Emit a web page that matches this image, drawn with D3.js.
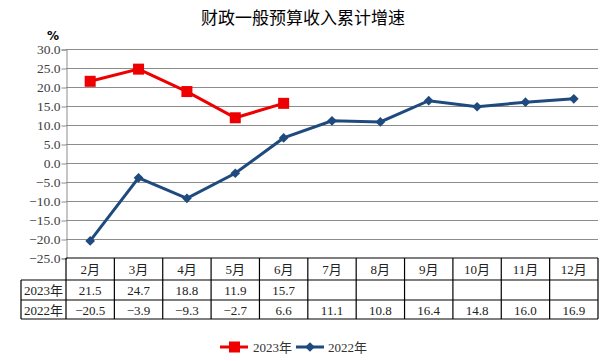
<!DOCTYPE html>
<html>
<head>
<meta charset="utf-8">
<script src="https://cdn.jsdelivr.net/npm/d3@7"></script>
<style>
body { margin: 0; background: #fff; }
text { font-family: "Liberation Serif", "DejaVu Serif", "Noto Sans CJK SC", serif; }
</style>
</head>
<body>
<div id="chart-area"></div>
<script>
var width = 611;
var height = 361;

// data
var months = ["2月", "3月", "4月", "5月", "6月", "7月", "8月", "9月", "10月", "11月", "12月"];
var values2023 = [21.5, 24.7, 18.8, 11.9, 15.7];
var values2022 = [-20.5, -3.9, -9.3, -2.7, 6.6, 11.1, 10.8, 16.4, 14.8, 16.0, 16.9];
var yTicks = [30, 25, 20, 15, 10, 5, 0, -5, -10, -15, -20, -25];

var plot = {left: 66, right: 598, top: 49, bottom: 258};

var svg = d3.select("#chart-area").append("svg")
.attr("width", width)
.attr("height", height)

svg.append("text")
.attr("x", 303)
.attr("y", 24)
.attr("text-anchor", "middle")
.attr("font-size", "17px")
.style("font-family", "'Noto Sans CJK SC', sans-serif")
.text("财政一般预算收入累计增速")

var x = d3.scaleBand()
.domain(months)
.range([plot.left, plot.right])

var y = d3.scaleLinear()
.domain([-25, 30])
.range([plot.bottom, plot.top])

// gridlines
svg.append("g")
.selectAll("line")
.data(yTicks.filter(d => d > -25))
.enter().append("line")
.attr("x1", plot.left)
.attr("x2", plot.right)
.attr("y1", d => y(d) + 0.5)
.attr("y2", d => y(d) + 0.5)
.attr("stroke", "#8c8c8c")
.attr("stroke-width", 1)

// y axis
var yAxisCall = d3.axisLeft(y)
.tickValues(yTicks)
.tickSize(5)
.tickFormat(d => d3.format(".1f")(d).replace("-", "\u2212"))

var yAxisGroup = svg.append("g")
.attr("transform", "translate(" + (plot.left + 0.5) + ",0.5)")
.call(yAxisCall)

yAxisGroup.select(".domain").attr("stroke", "#8c8c8c")
yAxisGroup.selectAll(".tick line").attr("stroke", "#8c8c8c")
yAxisGroup.selectAll(".tick text")
.attr("font-size", "13.5px")
.attr("fill", "#404040")
.attr("x", -6)
.style("font-family", "'Liberation Serif', serif")

svg.append("text")
.attr("x", 47)
.attr("y", 40)
.attr("font-size", "12px")
.attr("font-weight", "bold")
.style("font-family", "'DejaVu Sans', sans-serif")
.text("%")

// lines
var line = d3.line()
.x((d, i) => x(months[i]) + x.bandwidth() / 2)
.y(d => y(d))

svg.append("path")
.datum(values2022)
.attr("d", line)
.attr("fill", "none")
.attr("stroke", "#1f4a7e")
.attr("stroke-width", 3)

svg.append("path")
.datum(values2023)
.attr("d", line)
.attr("fill", "none")
.attr("stroke", "#ee0000")
.attr("stroke-width", 3)

svg.append("g")
.selectAll("path")
.data(values2022)
.enter().append("path")
.attr("d", d3.symbol().type(d3.symbolDiamond2).size(60))
.attr("transform", (d, i) => "translate(" + (x(months[i]) + x.bandwidth() / 2) + "," + y(d) + ")")
.attr("fill", "#1f4a7e")

svg.append("g")
.selectAll("rect")
.data(values2023)
.enter().append("rect")
.attr("x", (d, i) => x(months[i]) + x.bandwidth() / 2 - 5.5)
.attr("y", d => y(d) - 5.5)
.attr("width", 11)
.attr("height", 11)
.attr("fill", "#ee0000")

// table
var tableLeft = 21;
var rowY = [258, 280, 300, 319];
var table = svg.append("g")
.attr("stroke", "#000")
.attr("stroke-width", 1.2)

// horizontal lines
table.append("line").attr("x1", plot.left).attr("x2", plot.right).attr("y1", rowY[0]).attr("y2", rowY[0])
rowY.slice(1).forEach(yy => {
	table.append("line").attr("x1", tableLeft).attr("x2", plot.right).attr("y1", yy).attr("y2", yy)
})
// vertical lines
table.append("line").attr("x1", tableLeft).attr("x2", tableLeft).attr("y1", rowY[1]).attr("y2", rowY[3])
months.forEach(m => {
	table.append("line").attr("x1", x(m)).attr("x2", x(m)).attr("y1", rowY[0]).attr("y2", rowY[3])
})
table.append("line").attr("x1", plot.right).attr("x2", plot.right).attr("y1", rowY[0]).attr("y2", rowY[3])

var fmt = d => d3.format(".1f")(d).replace("-", "\u2212")

svg.append("g").selectAll("text")
.data(months)
.enter().append("text")
.attr("x", d => x(d) + x.bandwidth() / 2)
.attr("y", 274)
.attr("text-anchor", "middle")
.attr("font-size", "13px")
.attr("fill", "#222")
.text(d => d)

var rows = [["2023年", values2023, 295], ["2022年", values2022, 315]];
rows.forEach(r => {
	svg.append("text")
	.attr("x", (tableLeft + plot.left) / 2)
	.attr("y", r[2])
	.attr("text-anchor", "middle")
	.attr("font-size", "13px")
	.attr("fill", "#222")
	.text(r[0])

	svg.append("g").selectAll("text")
	.data(r[1])
	.enter().append("text")
	.attr("x", (d, i) => x(months[i]) + x.bandwidth() / 2)
	.attr("y", r[2])
	.attr("text-anchor", "middle")
	.attr("font-size", "13px")
	.attr("fill", "#222")
	.text(d => fmt(d))
})

// legend
var legend = svg.append("g")
.attr("transform", "translate(220,347)")

legend.append("line").attr("x1", 0).attr("x2", 28).attr("stroke", "#ee0000").attr("stroke-width", 3)
legend.append("rect").attr("x", 9).attr("y", -5.5).attr("width", 11).attr("height", 11).attr("fill", "#ee0000")
legend.append("text").attr("x", 33).attr("y", 5).attr("font-size", "13px").attr("fill", "#333").text("2023年")

legend.append("line").attr("x1", 76).attr("x2", 104).attr("stroke", "#1f4a7e").attr("stroke-width", 3)
legend.append("path").attr("d", d3.symbol().type(d3.symbolDiamond2).size(60)).attr("transform", "translate(90,0)").attr("fill", "#1f4a7e")
legend.append("text").attr("x", 108).attr("y", 5).attr("font-size", "13px").attr("fill", "#333").text("2022年")
</script>
</body>
</html>
